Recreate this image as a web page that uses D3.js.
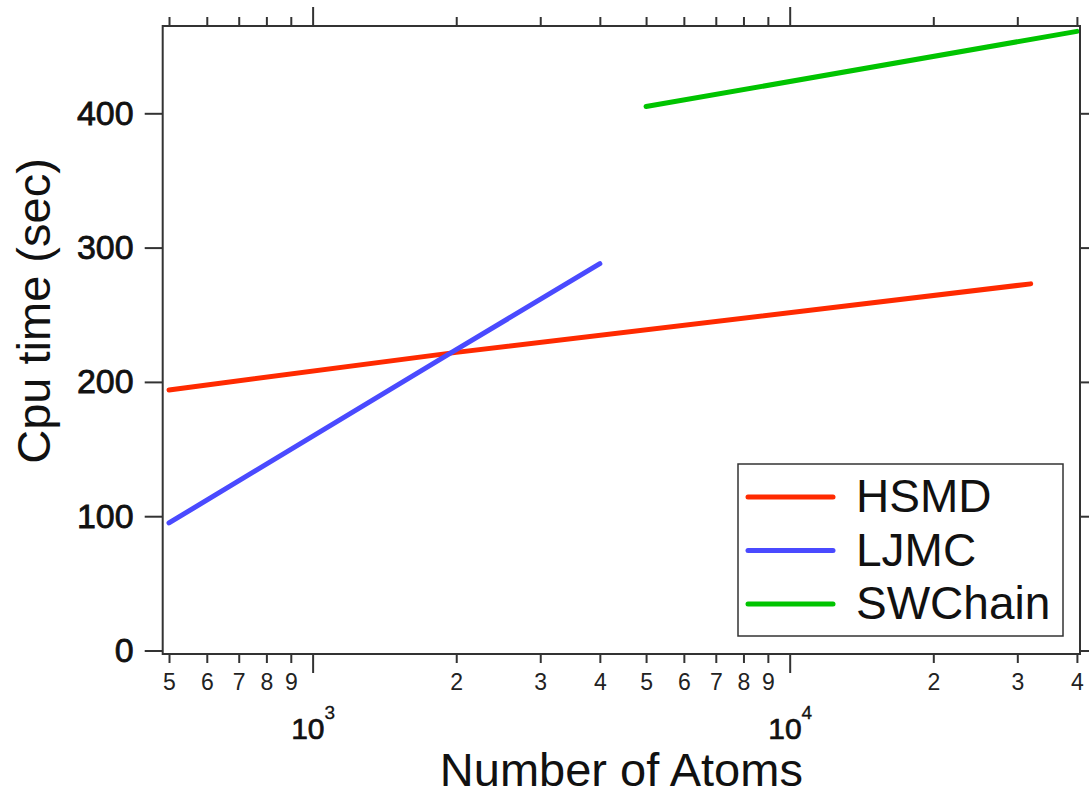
<!DOCTYPE html>
<html>
<head>
<meta charset="utf-8">
<script src="https://cdn.jsdelivr.net/npm/d3@7"></script>
<style>
  body { margin: 0; background: #fff; }
  text { font-family: "Liberation Sans", Arial, sans-serif; }
  .tick line { stroke: #333; stroke-width: 2; }
</style>
</head>
<body>
<div id="chart"></div>
<script>
// series data: [number of atoms, cpu time (sec)]
var seriesNames = ["HSMD", "LJMC", "SWChain"];
var seriesColors = ["#ff2a00", "#4a4aff", "#00c400"];
var hsmd = [[500, 194], [2000, 222], [32000, 273]];
var ljmc = [[500, 95], [2000, 224], [4000, 288]];
var swchain = [[5000, 405], [40000, 461]];

var minorTicks = [500, 600, 700, 800, 900, 2000, 3000, 4000, 5000, 6000, 7000, 8000, 9000, 20000, 30000, 40000];
var majorTicks = [1000, 10000];
var yTicks = [0, 100, 200, 300, 400];

var W = 1089, H = 794;
var plotLeft = 162.7, plotRight = 1080, plotTop = 26, plotBottom = 654;

var svg = d3.select("#chart").append("svg")
    .attr("width", W)
    .attr("height", H);

var x = d3.scaleLog().domain([485, 40600]).range([plotLeft, plotRight]);
var y = d3.scaleLinear().domain([-2.6, 465]).range([plotBottom, plotTop]);

// Axes
function noDomain(g) { g.select(".domain").remove(); }

svg.append("g")
    .attr("transform", "translate(0," + plotBottom + ")")
    .call(d3.axisBottom(x).tickValues(minorTicks).tickSize(9).tickPadding(11)
        .tickFormat(function(d) { return String(d / Math.pow(10, Math.floor(Math.log10(d) + 1e-9))); }))
    .call(noDomain)
    .selectAll("text")
    .attr("font-size", 23)
    .attr("fill", "#222");

var major = svg.append("g")
    .attr("transform", "translate(0," + plotBottom + ")")
    .call(d3.axisBottom(x).tickValues(majorTicks).tickSize(19).tickFormat(""))
    .call(noDomain);

// decade labels as 10 with a raised exponent
major.selectAll(".tick").each(function(d) {
    var t = d3.select(this).select("text")
        .attr("y", 85)
        .attr("dy", 0)
        .attr("font-size", 30)
        .attr("fill", "#111")
        .attr("stroke", "#111")
        .attr("stroke-width", 0.7);
    t.text("10");
    t.append("tspan")
        .attr("dy", -20)
        .attr("font-size", 19)
        .attr("stroke-width", 0.3)
        .text(Math.round(Math.log10(d)));
});

svg.append("g")
    .attr("transform", "translate(0," + plotTop + ")")
    .call(d3.axisTop(x).tickValues(minorTicks).tickSize(9).tickFormat(""))
    .call(noDomain);

svg.append("g")
    .attr("transform", "translate(0," + plotTop + ")")
    .call(d3.axisTop(x).tickValues(majorTicks).tickSize(19).tickFormat(""))
    .call(noDomain);

svg.append("g")
    .attr("transform", "translate(" + plotLeft + ",0)")
    .call(d3.axisLeft(y).tickValues(yTicks).tickSize(18).tickPadding(11))
    .call(noDomain)
    .selectAll("text")
    .attr("font-size", 34)
    .attr("fill", "#111")
    .attr("stroke", "#111")
    .attr("stroke-width", 0.8);

svg.append("g")
    .attr("transform", "translate(" + plotRight + ",0)")
    .call(d3.axisRight(y).tickValues(yTicks).tickSize(10).tickFormat(""))
    .call(noDomain);

// Lines
svg.append("clipPath").attr("id", "plotClip")
    .append("rect")
    .attr("x", plotLeft).attr("y", plotTop)
    .attr("width", plotRight - plotLeft).attr("height", plotBottom - plotTop);

var line = d3.line()
    .x(function(d) { return x(d[0]); })
    .y(function(d) { return y(d[1]); });

var allSeries = [hsmd, ljmc, swchain];
svg.append("g")
    .attr("clip-path", "url(#plotClip)")
    .selectAll("path")
    .data(allSeries)
    .enter()
    .append("path")
    .attr("d", line)
    .attr("fill", "none")
    .attr("stroke", function(d, i) { return seriesColors[i]; })
    .attr("stroke-width", 5)
    .attr("stroke-linecap", "round");

// Frame
svg.append("rect")
    .attr("x", plotLeft).attr("y", plotTop)
    .attr("width", plotRight - plotLeft).attr("height", plotBottom - plotTop)
    .attr("fill", "none")
    .attr("stroke", "#333")
    .attr("stroke-width", 2);

// Legend
var legend = svg.append("g").attr("transform", "translate(738,464)");
legend.append("rect")
    .attr("width", 325).attr("height", 172)
    .attr("fill", "#fff")
    .attr("stroke", "#333")
    .attr("stroke-width", 1.5);

seriesNames.forEach(function(name, i) {
    var ly = 33 + i * 53.5;
    legend.append("line")
        .attr("x1", 10).attr("x2", 95)
        .attr("y1", ly).attr("y2", ly)
        .attr("stroke", seriesColors[i])
        .attr("stroke-width", 5)
        .attr("stroke-linecap", "round");
    legend.append("text")
        .attr("x", 118)
        .attr("y", ly + 15)
        .attr("font-size", 46)
        .attr("fill", "#111")
        .text(name);
});

// Axis titles
svg.append("text")
    .attr("x", (plotLeft + plotRight) / 2)
    .attr("y", 786)
    .attr("text-anchor", "middle")
    .attr("font-size", 47)
    .attr("fill", "#111")
    .text("Number of Atoms");

svg.append("text")
    .attr("transform", "translate(50,311) rotate(-90)")
    .attr("text-anchor", "middle")
    .attr("font-size", 47)
    .attr("fill", "#111")
    .text("Cpu time (sec)");
</script>
</body>
</html>
